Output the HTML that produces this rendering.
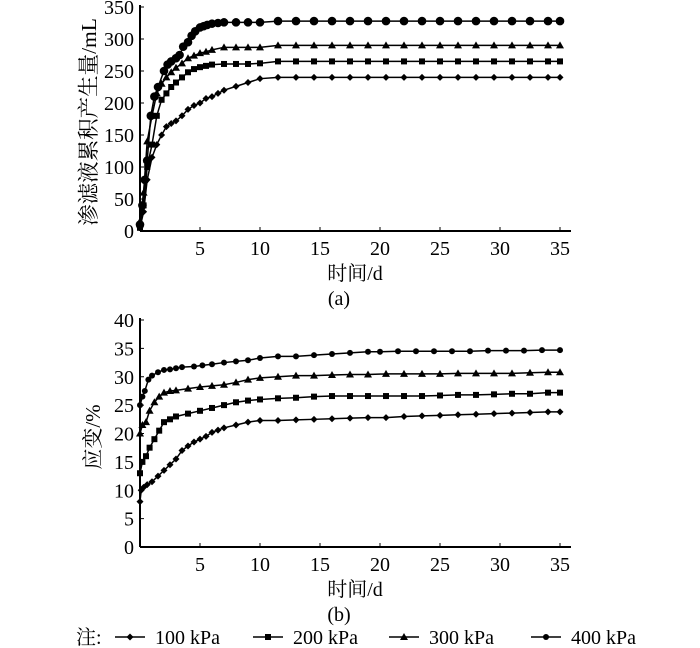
<!DOCTYPE html>
<html><head><meta charset="utf-8"><style>
body{margin:0;background:#fff;}
svg{display:block;font-family:"Liberation Serif","Noto Serif CJK SC",serif;}
</style></head><body>
<svg id="c" width="700" height="648"></svg>
<script>
// ---- Chart (a) data ----
const daysA400=[0,0.2,0.4,0.6,0.9,1.2,1.5,2,2.3,2.6,3,3.3,3.6,4,4.3,4.6,5,5.3,5.6,6,6.5,7,8,9,10,11.5,13,14.5,16,17.5,19,20.5,22,23.5,25,26.5,28,29.5,31,32.5,34,35];
const valsA400=[10,40,80,110,180,210,225,250,260,265,270,275,288,295,305,312,318,320,322,324,325,326,326,326,326,328,328,328,328,328,328,328,328,328,328,328,328,328,328,328,328,328];
const daysA300=[0,0.3,0.6,1,1.4,1.8,2.2,2.6,3,3.5,4,4.5,5,5.5,6,7,8,9,10,11.5,13,14.5,16,17.5,19,20.5,22,23.5,25,26.5,28,29.5,31,32.5,34,35];
const valsA300=[15,60,140,180,215,230,240,248,255,262,270,274,278,280,283,287,287,287,287,290,290,290,290,290,290,290,290,290,290,290,290,290,290,290,290,290];
const daysA200=[0,0.3,0.6,1,1.4,1.8,2.2,2.6,3,3.5,4,4.5,5,5.5,6,7,8,9,10,11.5,13,14.5,16,17.5,19,20.5,22,23.5,25,26.5,28,29.5,31,32.5,34,35];
const valsA200=[5,40,100,135,180,205,215,225,232,240,248,253,256,258,260,261,261,261,262,265,265,265,265,265,265,265,265,265,265,265,265,265,265,265,265,265];
const daysA100=[0,0.3,0.6,1,1.4,1.8,2.2,2.6,3,3.5,4,4.5,5,5.5,6,6.5,7,8,9,10,11.5,13,14.5,16,17.5,19,20.5,22,23.5,25,26.5,28,29.5,31,32.5,34,35];
const valsA100=[5,30,80,115,135,150,163,168,172,180,190,196,200,207,210,215,220,226,232,238,240,240,240,240,240,240,240,240,240,240,240,240,240,240,240,240,240];
// ---- Chart (b) data ----
const daysB400=[0,0.2,0.4,0.7,1,1.5,2,2.5,3,3.5,4.5,5.2,6,7,8,9,10,11.5,13,14.5,16,17.5,19,20,21.5,23,24.5,26,27.5,29,30.5,32,33.5,35];
const valsB400=[25,26.5,27.5,29.5,30.2,30.8,31.2,31.3,31.5,31.7,31.8,32,32.2,32.5,32.7,32.9,33.3,33.6,33.6,33.8,34,34.2,34.4,34.4,34.5,34.5,34.5,34.5,34.5,34.6,34.6,34.6,34.7,34.7];
const daysB300=[0,0.2,0.5,0.8,1.2,1.6,2,2.5,3,4,5,6,7,8,9,10,11.5,13,14.5,16,17.5,19,20.5,22,23.5,25,26.5,28,29.5,31,32.5,34,35];
const valsB300=[20,21.5,22,24,25.5,26.5,27.2,27.5,27.6,27.9,28.2,28.4,28.6,29,29.5,29.8,30,30.2,30.2,30.3,30.4,30.4,30.5,30.5,30.5,30.5,30.6,30.6,30.6,30.6,30.7,30.8,30.8];
const daysB200=[0,0.2,0.5,0.8,1.2,1.6,2,2.5,3,4,5,6,7,8,9,10,11.5,13,14.5,16,17.5,19,20.5,22,23.5,25,26.5,28,29.5,31,32.5,34,35];
const valsB200=[13,15,16,17.5,19,20.5,22,22.5,23,23.5,24,24.5,25,25.5,25.8,26,26.2,26.3,26.5,26.6,26.6,26.6,26.6,26.6,26.6,26.7,26.8,26.8,26.9,27,27,27.2,27.2];
const daysB100=[0,0.1,0.3,0.6,1,1.5,2,2.5,3,3.5,4,4.5,5,5.5,6,6.5,7,8,9,10,11.5,13,14.5,16,17.5,19,20.5,22,23.5,25,26.5,28,29.5,31,32.5,34,35];
const valsB100=[8,10,10.5,11,11.5,12.5,13.5,14.5,15.5,17,17.8,18.5,19,19.5,20.2,20.6,21,21.5,22,22.3,22.3,22.4,22.5,22.6,22.7,22.8,22.8,23,23.1,23.2,23.3,23.4,23.5,23.6,23.7,23.8,23.8];
const xTicks=[5,10,15,20,25,30,35];
const yTicksA=[0,50,100,150,200,250,300,350];
const yTicksB=[0,5,10,15,20,25,30,35,40];

const NS='http://www.w3.org/2000/svg';
const svg=document.getElementById('c');
function el(tag,attrs,parent){const e=document.createElementNS(NS,tag);for(const k in attrs)e.setAttribute(k,attrs[k]);(parent||svg).appendChild(e);return e;}
function marker(g,type,x,y){
  let m;
  if(type==='diamond')m=el('polygon',{points:`${x},${y-3.5} ${x+3.5},${y} ${x},${y+3.5} ${x-3.5},${y}`,fill:'#000'},g);
  else if(type==='square')m=el('rect',{x:x-3,y:y-3,width:6,height:6,fill:'#000'},g);
  else if(type==='triangle')m=el('polygon',{points:`${x},${y-4} ${x+4},${y+3} ${x-4},${y+3}`,fill:'#000'},g);
  else m=el('circle',{cx:x,cy:y,r:type==='bigdot'?4.3:3,fill:'#000'},g);
  
  
}
function chart(cfg){
  const {x0,y0,top,xmax,ymax,yTicks,name}=cfg;
  const sx=d=>x0+d*12;
  const sy=v=>y0-(v/ymax)*(y0-top);
  const g=el('g',{});
  
  
  const ax=el('line',{x1:x0,y1:y0,x2:x0+431,y2:y0,stroke:'#000','stroke-width':2},g);
  
  const ay=el('line',{x1:x0,y1:y0,x2:x0,y2:top-2,stroke:'#000','stroke-width':2},g);
  
  xTicks.forEach(t=>{
    el('line',{x1:sx(t),y1:y0,x2:sx(t),y2:y0-4,stroke:'#000','stroke-width':1},g);
    const tx=el('text',{x:sx(t),y:y0+24,'font-size':20,'text-anchor':'middle'},g);tx.textContent=t;
    
  });
  yTicks.forEach(t=>{
    el('line',{x1:x0,y1:sy(t),x2:x0+4,y2:sy(t),stroke:'#000','stroke-width':1},g);
    const tx=el('text',{x:x0-6,y:sy(t)+7,'font-size':20,'text-anchor':'end'},g);tx.textContent=t;
    
  });
  cfg.series.forEach(s=>{
    const sg=el('g',{},g);
    
    
    el('polyline',{points:s.d.map((d,i)=>sx(d)+','+sy(s.v[i])).join(' '),fill:'none',stroke:'#000','stroke-width':1.5},sg);
    s.d.forEach((d,i)=>marker(sg,s.m,sx(d),sy(s.v[i])));
  });
  const xt=el('text',{x:x0+215,y:y0+49,'font-size':20,'text-anchor':'middle'},g);xt.textContent='时间/d';
  
  const cap=el('text',{x:x0+199,y:y0+74,'font-size':20,'text-anchor':'middle'},g);cap.textContent=cfg.cap;
  
  const yt=el('text',{x:0,y:0,'font-size':cfg.ytfs,'text-anchor':'middle',transform:`translate(${cfg.ytx},${cfg.yty}) rotate(-90)`},g);yt.textContent=cfg.ytitle;
  
}
chart({name:'chart-a',x0:140,y0:231,top:7,ymax:350,yTicks:yTicksA,cap:'(a)',ytitle:'渗滤液累积产生量/mL',ytx:96,yty:122,ytfs:21.5,
  series:[{label:'100kpa',d:daysA100,v:valsA100,m:'diamond'},{label:'200kpa',d:daysA200,v:valsA200,m:'square'},{label:'300kpa',d:daysA300,v:valsA300,m:'triangle'},{label:'400kpa',d:daysA400,v:valsA400,m:'bigdot'}]});
chart({name:'chart-b',x0:140,y0:547,top:320,ymax:40,yTicks:yTicksB,cap:'(b)',ytitle:'应变/%',ytx:100,yty:437,ytfs:21,
  series:[{label:'100kpa',d:daysB100,v:valsB100,m:'diamond'},{label:'200kpa',d:daysB200,v:valsB200,m:'square'},{label:'300kpa',d:daysB300,v:valsB300,m:'triangle'},{label:'400kpa',d:daysB400,v:valsB400,m:'dot'}]});
// legend
const lg=el('g',{});


const note=el('text',{x:76,y:644,'font-size':20},lg);note.textContent='注:';
const legendLabels=['100 kPa','200 kPa','300 kPa','400 kPa'];
const legendMarks=['diamond','square','triangle','dot'];
const legendX=[115,253,389,531];
legendLabels.forEach((l,i)=>{
  const eg=el('g',{},lg);
  
  
  el('line',{x1:legendX[i],y1:637,x2:legendX[i]+30,y2:637,stroke:'#000','stroke-width':1.5},eg);
  marker(eg,legendMarks[i],legendX[i]+15,637);
  const t=el('text',{x:legendX[i]+40,y:644,'font-size':20},eg);t.textContent=l;
});
</script>
</body></html>
